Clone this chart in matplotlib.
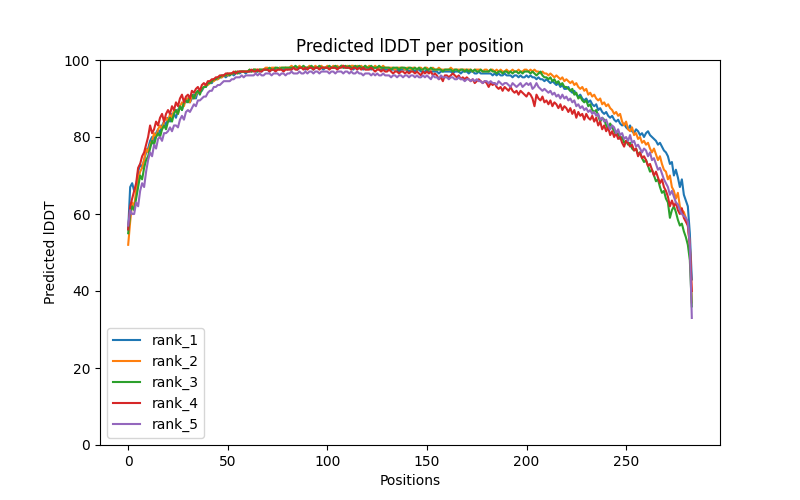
import numpy as np
import matplotlib
matplotlib.use("Agg")
import matplotlib.pyplot as plt

# predicted lDDT per residue for the 5 ranked models
rank_1 = [
    56, 67, 68, 66, 67, 71, 73, 72, 74, 76,
    77, 79, 80, 79, 81, 82, 81, 83, 84, 83,
    85, 84, 86, 86, 85, 87, 88, 87, 89, 89,
    90, 89, 90, 91, 90, 92, 92, 92, 93, 93,
    94, 94, 94, 95, 95, 95, 95.5, 95.5, 96, 95.5,
    96, 96, 96.5, 96, 96.5, 97, 96.5, 97, 97, 96.5,
    97, 97, 97, 97.5, 97, 97, 97.5, 97, 97.5, 97.5,
    97.5, 97, 97.5, 97.5, 97.5, 97.5, 98, 97.5, 97.5, 98,
    97.5, 98, 97.5, 98, 98, 97.5, 98, 98, 98, 97.5,
    98, 98, 98, 97.5, 98, 98, 98, 98, 97.5, 98,
    98, 98, 98, 98, 98, 98, 98, 98.5, 98, 98,
    98, 98, 98, 97.5, 98, 98, 98, 98, 97.5, 98,
    98, 98, 97.5, 98, 98, 98, 97.5, 97.5, 98, 97.5,
    97.5, 97.5, 97.5, 97.5, 97.5, 97.5, 97, 97.5, 97.5, 97.5,
    97.5, 97, 97.5, 97.5, 97, 97.5, 97.5, 97, 97, 97,
    97.5, 97, 97, 97, 97, 97, 96.5, 97, 97, 97,
    97, 97, 97, 96.5, 97, 97, 97, 96.5, 97, 97,
    97, 96.5, 97, 97, 96.5, 96.5, 97, 96.5, 96.5, 96.5,
    96.5, 96.5, 96.5, 96, 96.5, 96, 96.5, 96, 96, 96.5,
    96, 96, 96, 95.5, 96, 96, 95.5, 96, 95.5, 95.5,
    96, 95.5, 96, 95.5, 95.5, 95, 95.5, 95, 95, 94.5,
    95, 94.5, 94, 94.5, 94, 93.5, 94, 93, 93.5, 92.5,
    92.5, 93, 92, 91.5, 92, 91, 90.5, 91, 90, 89.5,
    90, 89, 89.5, 88.5, 88, 88.5, 87, 87.5, 86.5, 86,
    86.5, 85.5, 85, 85.5, 84.5, 84, 84.5, 83.5, 83, 83.5,
    82.5, 82, 83, 81.5, 81, 82, 81.5, 80.5, 81, 80,
    81, 81.5, 80.5, 80, 79.5, 79, 78, 78.5, 77.5, 76.5,
    76, 75, 73, 73.5, 70, 71.5, 69.5, 67, 69, 65,
    63.5, 62, 55, 43,
]

rank_2 = [
    52, 58, 63, 62, 66, 69, 71, 72, 74, 77,
    76, 78, 79, 81, 80, 82, 83, 82, 84, 85,
    84, 86, 85, 87, 87, 86, 88, 89, 88, 90,
    90, 89, 91, 90, 91, 92, 91.5, 92.5, 93, 93.5,
    93.5, 94, 94.5, 94.5, 95, 95, 95.5, 95.5, 96, 96,
    96, 96.5, 96.5, 96.5, 97, 96.5, 97, 97, 97, 97,
    97, 97.5, 97, 97.5, 97.5, 97.5, 97.5, 97.5, 97.5, 98,
    98, 97.5, 98, 98, 98, 97.5, 98, 98, 98, 98,
    98, 98, 98.5, 98, 98, 98, 98.5, 98, 98, 98,
    98, 98.5, 98, 98, 98.5, 98, 98, 98.5, 98, 98,
    98.5, 98, 98, 98.5, 98, 98.5, 98, 98.5, 98.5, 98,
    98.5, 98, 98.5, 98.5, 98, 98.5, 98, 98.5, 98, 98.5,
    98, 98.5, 98, 98, 98.5, 98, 98, 98, 98.5, 98,
    98, 98, 98, 98, 97.5, 98, 98, 98, 98, 97.5,
    98, 98, 97.5, 98, 98, 97.5, 98, 98, 97.5, 98,
    98, 97.5, 97.5, 98, 97.5, 97.5, 98, 97.5, 97.5, 97.5,
    97.5, 97.5, 98, 97.5, 97.5, 97.5, 97.5, 97.5, 97.5, 97.5,
    97.5, 97.5, 97.5, 97, 97.5, 97.5, 97.5, 97.5, 97, 97.5,
    97.5, 97, 97.5, 97.5, 97, 97.5, 97, 97.5, 97, 97,
    97.5, 97, 97, 97.5, 97, 97, 97.5, 97, 97, 97.5,
    97.5, 97, 97.5, 97, 97.5, 97, 97, 96.5, 97, 96.5,
    96.5, 96, 96.5, 96, 95.5, 96, 95.5, 95, 95.5, 94.5,
    95, 94.5, 94, 94.5, 93.5, 94, 93, 92.5, 93, 92,
    92.5, 91, 91.5, 90.5, 91, 90, 89.5, 90, 88.5, 89,
    88, 88.5, 87.5, 87, 86, 86.5, 85.5, 86, 84, 83,
    84, 82, 81.5, 82.5, 80.5, 81, 79.5, 80, 78.5, 79,
    78, 78.5, 77, 76, 77, 75.5, 74, 75, 73, 71.5,
    71, 69, 70, 67, 66, 64, 65.5, 62, 61, 60.5,
    59, 57, 52, 37,
]

rank_3 = [
    55, 60, 62, 61, 64, 67, 70, 69, 72, 74,
    75, 77, 79, 78, 80, 81, 80, 82, 83, 82,
    84, 85, 84, 86, 87, 86, 88, 87, 89, 89.5,
    89, 90.5, 91, 90, 91.5, 92, 91, 92.5, 93, 93,
    94, 94, 94.5, 95, 95, 95.5, 95.5, 96, 96, 96,
    96.5, 96, 96.5, 96.5, 97, 96.5, 97, 97, 97, 97,
    97, 97.5, 97, 97.5, 97.5, 97, 97.5, 97.5, 97.5, 97.5,
    97.5, 98, 97.5, 97.5, 98, 98, 97.5, 98, 98, 98,
    98, 98, 98, 98, 98.5, 98, 98, 98, 98.5, 98,
    98, 98, 98.5, 98, 98, 98, 98.5, 98, 98, 98,
    98, 98.5, 98, 98, 98.5, 98, 98, 98.5, 98, 98.5,
    98, 98.5, 98, 98, 98.5, 98, 98.5, 98, 98, 98.5,
    98, 98, 98.5, 98, 98, 98, 98.5, 98, 98, 98,
    98, 98, 97.5, 98, 98, 98, 97.5, 98, 98, 98,
    97.5, 98, 98, 97.5, 98, 97.5, 98, 97.5, 97.5, 98,
    97.5, 97.5, 98, 97.5, 97.5, 97.5, 97.5, 97.5, 97, 97.5,
    97.5, 97.5, 97.5, 97, 97.5, 97.5, 97, 97.5, 97.5, 97,
    97.5, 97, 97.5, 97, 97.5, 97, 97, 97.5, 97, 97,
    97, 97, 97.5, 97, 97, 96.5, 97, 97, 96.5, 97,
    97, 96.5, 97, 96.5, 97, 97, 96.5, 97, 96.5, 97,
    97, 97, 96.5, 97, 96.5, 96, 96.5, 97, 96, 95.5,
    95.5, 95, 95.5, 94.5, 95, 94, 94.5, 93.5, 94, 93,
    93, 92.5, 92, 92.5, 91, 91.5, 90, 90.5, 89.5, 89,
    89.5, 88, 88.5, 87, 86.5, 87, 85.5, 84, 85, 84.5,
    83, 82, 83.5, 82.5, 81.5, 80.5, 81, 79.5, 80, 78.5,
    79, 78, 78.5, 77, 76.5, 77, 75.5, 76, 74.5, 73.5,
    74, 72.5, 71, 71.5, 70, 68.5, 69, 67, 65.5, 66,
    64, 63, 59, 61, 62, 60.5, 58.5, 57, 57.5, 55.5,
    54, 52, 48, 36,
]

rank_4 = [
    56, 62, 64, 66, 68, 72, 73, 75, 76, 78,
    80, 83, 81, 82, 84, 83, 85, 86, 84, 86,
    87, 86, 88, 87, 89, 88, 90, 91, 89, 90.5,
    91, 90, 92, 91.5, 92.5, 93, 92, 93.5, 94, 93.5,
    94.5, 94.5, 95, 95, 95.5, 95.5, 96, 96, 96, 96.5,
    96.5, 96.5, 96.5, 97, 96.5, 97, 97, 97, 97, 97,
    97, 97, 97.5, 97, 97, 97.5, 97, 97, 97.5, 97.5,
    97.5, 97, 97.5, 97.5, 97, 97.5, 97.5, 97.5, 97, 97.5,
    97.5, 97.5, 97.5, 98, 97.5, 97.5, 98, 98, 97.5, 98,
    97.5, 98, 98, 97.5, 98, 98, 97.5, 98, 98, 98,
    98, 97.5, 98, 98, 98, 97.5, 98, 98, 98.5, 98,
    98, 98, 97.5, 98, 98, 97.5, 98, 97.5, 98, 97.5,
    97.5, 97.5, 98, 97.5, 97, 97.5, 97.5, 97, 97.5, 97,
    97, 97.5, 97, 96.5, 97, 97, 96.5, 97, 97, 96.5,
    97, 96.5, 97, 97, 96.5, 97, 96.5, 96, 97, 96.5,
    97, 96.5, 97, 96, 96.5, 96, 95, 95.5, 94.5, 96,
    96, 95.5, 96, 96.5, 96, 95.5, 96, 95, 95.5, 95,
    95.5, 95, 94.5, 95, 94, 94.5, 95, 94.5, 94, 94.5,
    94, 93, 94, 93.5, 94, 93, 92.5, 93, 92, 93,
    92.5, 92, 93, 92, 91.5, 92, 91, 92, 91.5, 91,
    90.5, 91.5, 91, 90, 88, 91, 90, 89.5, 90.5, 89,
    89.5, 88.5, 89.5, 88, 89, 88.5, 87.5, 88.5, 87, 88,
    87.5, 86.5, 87.5, 86, 87, 85, 86.5, 85.5, 86, 84.5,
    86, 85, 84.5, 85.5, 84, 85, 83, 84, 82, 83,
    81.5, 82.5, 80.5, 81.5, 80, 81, 79.5, 80, 78.5, 77.5,
    79, 78.5, 77.5, 78, 76.5, 77, 75, 76, 74.5, 75,
    74, 72.5, 73, 71.5, 70, 71, 69.5, 68, 69, 67,
    66, 64.5, 62, 63.5, 62, 63, 61, 60, 61.5, 59,
    58, 57, 52, 40,
]

rank_5 = [
    57, 61, 60, 60, 63, 62, 66, 68, 67, 71,
    74, 76, 75, 78, 77, 79.5, 80, 79, 81, 81,
    81.5, 82.5, 81.5, 83, 83, 82.5, 84.5, 85.5, 84.5, 86.5,
    87, 86.5, 87.5, 88.5, 88, 89.5, 89.5, 90, 90.5, 90.5,
    91.5, 92, 92, 93, 93, 93.5, 93.5, 94, 94.5, 94.5,
    94.5, 94.5, 95, 95, 95.5, 95.5, 95.5, 96, 95.5, 96,
    96, 96, 96, 96, 96.5, 96, 96.5, 96, 96, 96.5,
    96.5, 96.5, 96, 96.5, 96.5, 96.5, 96, 96.5, 96.5, 96,
    96.5, 96.5, 97, 96.5, 96.5, 96.5, 97, 96.5, 96.5, 97,
    96.5, 97, 97, 96.5, 97, 97, 96.5, 97, 97, 97,
    97, 96.5, 97, 97, 96.5, 97, 97, 97, 96.5, 97,
    97, 96.5, 97, 96.5, 96.5, 97, 96.5, 96.5, 96, 96.5,
    96.5, 96.5, 96, 96.5, 96, 96.5, 96, 96, 96.5, 96,
    96, 96, 95.5, 96, 96, 95.5, 96, 96, 95.5, 96,
    96, 95.5, 96, 96, 95.5, 96, 95.5, 95.5, 96, 95.5,
    96, 95.5, 95, 96, 95.5, 95.5, 95, 96, 95.5, 95.5,
    95.5, 95, 95.5, 95.5, 95, 95, 95.5, 95, 95, 94.5,
    95, 95, 94.5, 95, 94.5, 95, 94.5, 94.5, 94, 94.5,
    94.5, 94, 94.5, 94, 94, 93.5, 94.5, 94, 93.5, 94,
    94, 93.5, 93, 94, 93.5, 93, 93.5, 94, 93, 93.5,
    94, 93.5, 94, 92.5, 93, 94, 93, 92.5, 92, 92.5,
    92, 91.5, 92, 91, 91.5, 90.5, 91, 90, 91, 90,
    90.5, 89.5, 90, 89, 89.5, 88, 88.5, 87.5, 88, 87,
    87.5, 86.5, 87, 86, 86.5, 85.5, 86, 84.5, 85, 84,
    84.5, 83, 82, 83, 82.5, 81, 82, 80.5, 81, 79.5,
    80, 79, 80.5, 78.5, 79, 77.5, 78, 77, 76, 77,
    76.5, 75, 76, 74, 74.5, 73, 71.5, 72, 70.5, 69,
    68, 67, 65, 66, 64.5, 63, 62.5, 61, 60, 59.5,
    59, 58, 52, 33,
]

series = {
    "rank_1": rank_1,
    "rank_2": rank_2,
    "rank_3": rank_3,
    "rank_4": rank_4,
    "rank_5": rank_5,
}

fig, ax = plt.subplots(figsize=(8, 5), dpi=100)

for name, values in series.items():
    ax.plot(np.arange(len(values)), values, label=name)

ax.set_ylim(0, 100)
ax.set_title("Predicted lDDT per position")
ax.set_xlabel("Positions")
ax.set_ylabel("Predicted lDDT")
ax.legend(loc="lower left")

plt.savefig("out.png")
